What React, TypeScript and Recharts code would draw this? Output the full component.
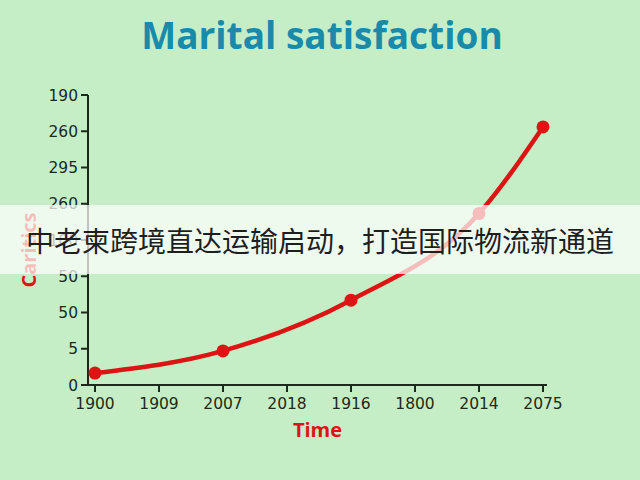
import React from "react";
import { LineChart, Line, XAxis, YAxis, Label } from "recharts";

const years = ["1900", "1909", "2007", "2018", "1916", "1800", "2014", "2075"];
const satisfaction = [0.33, null, 0.94, null, 2.34, null, 4.73, 7.12];
const yTicks = [0, 1, 2, 3, 4, 5, 6, 7, 8];
const yTickLabels = ["0", "5", "50", "50", "100", "260", "295", "260", "190"];

const data = years.map((year, i) => ({ year, value: satisfaction[i] }));

const axisColor = "#1c2a1c";
const red = "#dd1414";

const Dot = (props: any) => {
  const { cx, cy, value } = props;
  if (value == null) return null;
  return <circle cx={cx} cy={cy} r={6.5} fill={red} stroke="none" />;
};

const App = () => {
  return (
    <div
      style={{
        position: "fixed",
        left: 0,
        top: 0,
        width: 640,
        height: 480,
        background: "#c6eec6",
        overflow: "hidden",
      }}
    >
      <div
        style={{
          position: "absolute",
          top: 10,
          left: 2,
          width: 640,
          textAlign: "center",
          fontFamily: "'Open Sans', sans-serif",
          fontWeight: 700,
          fontSize: 37,
          lineHeight: "50px",
          color: "#1a8aaa",
        }}
      >
        Marital satisfaction
      </div>
      <LineChart
        width={640}
        height={480}
        data={data}
        margin={{ top: 95, right: 93, bottom: 65, left: 0 }}
        style={{ position: "absolute", left: 0, top: 0 }}
      >
        <XAxis
          dataKey="year"
          height={30}
          padding={{ left: 7, right: 4 }}
          stroke={axisColor}
          strokeWidth={2}
          tickSize={7}
          tickMargin={6}
          tick={{ fill: axisColor, fontSize: 15.5, fontFamily: "'DejaVu Sans', sans-serif" }}
        >
          <Label
            value="Time"
            position="bottom"
            offset={8}
            style={{ fill: red, fontSize: 20, fontWeight: 700, fontFamily: "'Open Sans', sans-serif" }}
          />
        </XAxis>
        <YAxis
          type="number"
          domain={[0, 8]}
          ticks={yTicks}
          interval={0}
          width={88}
          stroke={axisColor}
          strokeWidth={2}
          tickSize={7}
          tickMargin={3}
          tickFormatter={(v: number) => yTickLabels[v]}
          tick={{ fill: axisColor, fontSize: 15.5, fontFamily: "'DejaVu Sans', sans-serif" }}
        >
          <Label
            content={() => (
              <text
                x={36}
                y={250}
                transform="rotate(-90 36 250)"
                textAnchor="middle"
                fill={red}
                fontSize={20}
                fontWeight={700}
                fontFamily="'Open Sans', sans-serif"
              >
                Caritics
              </text>
            )}
          />
        </YAxis>
        <Line
          type="monotone"
          dataKey="value"
          stroke={red}
          strokeWidth={4.5}
          connectNulls
          dot={<Dot />}
          activeDot={false}
          isAnimationActive={false}
        />
      </LineChart>
      <div
        style={{
          position: "absolute",
          left: 0,
          top: 205,
          width: 640,
          height: 69,
          background: "rgba(255,255,255,0.72)",
          display: "flex",
          alignItems: "center",
          justifyContent: "center",
          fontFamily: "'Noto Sans CJK SC', sans-serif",
          fontSize: 28,
          color: "#1e1e1e",
        }}
      >
        中老柬跨境直达运输启动，打造国际物流新通道
      </div>
    </div>
  );
};

export default App;
